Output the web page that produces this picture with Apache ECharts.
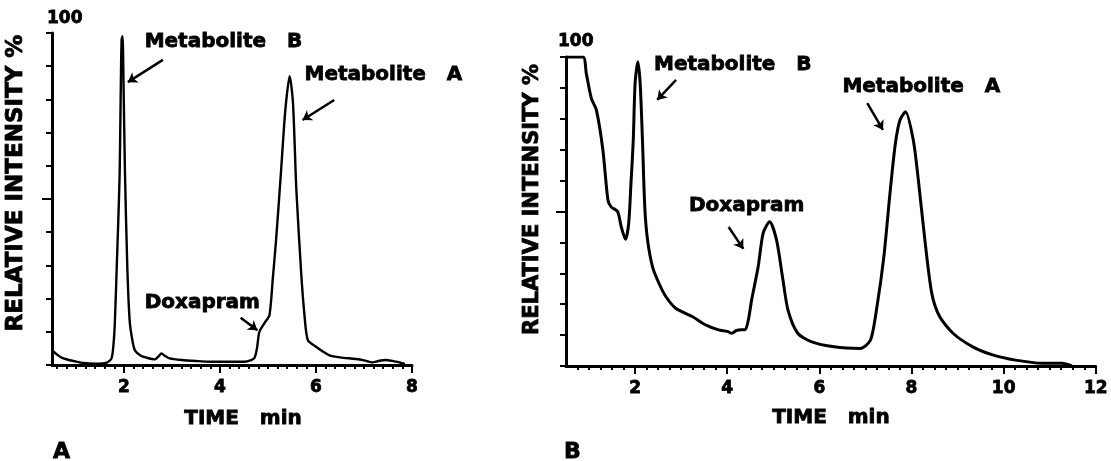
<!DOCTYPE html>
<html>
<head>
<meta charset="utf-8">
<title>Doxapram chromatograms</title>
<script src="https://cdn.jsdelivr.net/npm/echarts@6.0.0/dist/echarts.min.js"></script>
<style>
    html, body { margin: 0; padding: 0; background: #ffffff; }
    #chart { width: 1111px; height: 461px; }
</style>
</head>
<body>
<div id="chart"></div>
<script>
// 数据：A 图（0.5 - 8 min）
var timeA = [0.5, 0.6, 0.7, 0.85, 0.95, 1.15, 1.4, 1.64, 1.74, 1.78, 1.81, 1.85, 1.88, 1.91, 1.93, 1.95, 1.97, 1.99,
    2.02, 2.07, 2.12, 2.18, 2.23, 2.35, 2.47, 2.64, 2.72, 2.78, 2.85, 2.95, 3.2, 3.5, 3.8, 4.2, 4.5, 4.65, 4.72,
    4.77, 4.82, 4.93, 5.03, 5.1, 5.17, 5.27, 5.34, 5.39, 5.45, 5.52, 5.59, 5.69, 5.76, 5.83, 6.0, 6.15, 6.28,
    6.5, 6.83, 7.0, 7.18, 7.3, 7.46, 7.67, 7.85];
var intensityA = [4.5, 3.2, 2.2, 1.5, 1.2, 0.6, 0.4, 0.7, 2, 6, 13, 30, 43, 58, 80, 98, 99, 85,
    58, 29, 13, 7, 4.3, 2.8, 2.2, 1.7, 2.6, 3.5, 2.8, 2, 1.5, 1.2, 1, 1, 1, 1.5, 2.2,
    5, 10, 12.7, 15, 26, 38, 58, 73, 81, 87, 79, 53, 28, 15, 7.5, 5.5, 4, 2.9,
    2.3, 1.8, 1.4, 0.8, 1.2, 1.5, 1, 0.3];

// 数据：B 图（0.5 - 12 min）
var timeB = [0.5, 0.87, 0.94, 1.05, 1.16, 1.3, 1.41, 1.48, 1.62, 1.7, 1.79, 1.86, 1.91, 1.96, 2.0, 2.06, 2.11,
    2.16, 2.21, 2.27, 2.38, 2.52, 2.67, 2.88, 3.24, 3.53, 3.81, 4.0, 4.1, 4.2, 4.31, 4.39, 4.46, 4.53, 4.67,
    4.78, 4.92, 5.07, 5.21, 5.32, 5.53, 5.82, 6.32, 6.89, 7.11, 7.25, 7.4, 7.54, 7.65, 7.75, 7.87, 8.04,
    8.15, 8.29, 8.44, 8.61, 8.9, 9.33, 9.76, 10.26, 10.84, 11.27, 11.48];
var intensityB = [100, 100, 94.7, 86.6, 82.8, 70, 53.7, 51.5, 50, 45, 41, 46, 59, 73, 91.5, 98.5, 91.5,
    73, 51.5, 40.8, 32, 26.7, 22.4, 18.7, 16, 13.3, 11.7, 11.2, 10.6, 11.5, 11.7, 11.7, 15, 21.4, 32,
    43, 46.7, 40.8, 27.8, 18, 10.6, 7.9, 6.2, 5.7, 8.4, 19.2, 35.4, 57, 72, 79.6, 82.3, 73,
    60, 40.8, 23.5, 16, 10.6, 6.2, 3.6, 1.9, 0.9, 0.9, 0];

// 刻度标签
var xLabelsA = [2, 4, 6, 8];
var xLabelsB = [2, 4, 6, 8, 10, 12];
var yLabels = [100];

// 峰的名称
var peakNames = ['Metabolite   B', 'Metabolite   A', 'Doxapram'];

var font = 'DejaVu Sans';
// 加粗字体（描边让字更黑）
var ink = { color: '#000', fontFamily: font, fontWeight: 'bold', textBorderColor: '#000', textBorderWidth: 0.8 };

function txt(extra) {
    return Object.assign({}, ink, extra);
}

// 小刻度位置
function minorTicks(from, to, step) {
    var out = [];
    for (var v = from; v <= to + 1e-9; v += step) {
        out.push(Math.round(v * 100) / 100);
    }
    return out;
}

function zip(xs, ys) {
    return xs.map(function (x, i) { return [x, ys[i]]; });
}

// x 轴（主刻度 + 标签）
function mainX(grid, max, labels, gap, pad) {
    return {
        type: 'value', gridIndex: grid, min: 0.5, max: max, position: 'bottom',
        name: 'TIME   min', nameLocation: 'middle', nameGap: gap,
        nameTextStyle: txt({ fontSize: 20, padding: pad }),
        axisLine: { onZero: false, lineStyle: { color: '#000', width: 3 } },
        axisTick: { customValues: labels, length: 8, lineStyle: { color: '#000', width: 2 } },
        axisLabel: txt({ customValues: labels, margin: 14, fontSize: 17 }),
        splitLine: { show: false }
    };
}

// x 轴（小刻度）
function minorX(grid, max, ticks) {
    return {
        type: 'value', gridIndex: grid, min: 0.5, max: max, position: 'bottom',
        axisLine: { show: false },
        axisTick: { customValues: ticks, length: 4, lineStyle: { color: '#000', width: 2 } },
        axisLabel: { show: false },
        splitLine: { show: false }
    };
}

// y 轴
function mainY(grid, nameGap, namePad, fontSize, labelMargin, labelLift) {
    return {
        type: 'value', gridIndex: grid, min: 0, max: 100, interval: 10, position: 'left',
        name: 'RELATIVE INTENSITY %', nameLocation: 'middle', nameRotate: 90, nameGap: nameGap,
        nameTextStyle: txt({ fontSize: fontSize, padding: namePad }),
        axisLine: { onZero: false, lineStyle: { color: '#000', width: 3 } },
        axisTick: { length: 6, lineStyle: { color: '#000', width: 2 } },
        axisLabel: txt({
            customValues: yLabels, margin: labelMargin, align: 'left', verticalAlign: 'bottom',
            padding: [0, 0, labelLift, 0], fontSize: 17
        }),
        splitLine: { show: false }
    };
}

// y 轴 50% 处的长刻度
function halfY(grid) {
    return {
        type: 'value', gridIndex: grid, min: 0, max: 100, position: 'left',
        axisLine: { show: false },
        axisTick: { customValues: [50], length: 10, lineStyle: { color: '#000', width: 2 } },
        axisLabel: { show: false },
        splitLine: { show: false }
    };
}

function curve(xi, yi, data, width) {
    return {
        type: 'line', xAxisIndex: xi, yAxisIndex: yi, data: data,
        showSymbol: false, smooth: 0.25, silent: true,
        lineStyle: { color: '#000', width: width }
    };
}

// 峰名称
function names(xi, yi, items) {
    return {
        type: 'scatter', xAxisIndex: xi, yAxisIndex: yi, symbolSize: 0, silent: true,
        itemStyle: { opacity: 1 },
        data: items,
        label: txt({ show: true, formatter: '{b}', position: 'right', distance: 0, fontSize: 20, opacity: 1 })
    };
}

// 箭头
function arrows(xi, yi, items) {
    return {
        type: 'lines', coordinateSystem: 'cartesian2d', xAxisIndex: xi, yAxisIndex: yi, silent: true,
        symbol: ['none', 'arrow'], symbolSize: 9,
        lineStyle: { color: '#000', width: 2.5, opacity: 1 },
        data: items.map(function (c) { return { coords: c }; })
    };
}

var myChart = echarts.init(document.getElementById('chart'));
var option = {
    backgroundColor: '#ffffff',
    animation: false,
    title: [
        { text: 'A', left: 48, top: 436, textStyle: txt({ fontSize: 22 }) },
        { text: 'B', left: 559, top: 436, textStyle: txt({ fontSize: 22 }) }
    ],
    grid: [
        { left: 52, top: 33, width: 360, height: 332 },
        { left: 566, top: 57, width: 534, height: 309 }
    ],
    xAxis: [
        mainX(0, 8, xLabelsA, 44, [0, 0, 0, 22]),
        minorX(0, 8, minorTicks(0.6, 8, 0.2)),
        mainX(1, 12, xLabelsB, 42, [0, 0, 0, 0]),
        minorX(1, 12, minorTicks(0.75, 12, 0.25))
    ],
    yAxis: [
        mainY(0, 24, [0, 0, 0, 32], 23, 5, 6),
        halfY(0),
        mainY(1, 23, [0, 0, 0, 24], 21, 8, 7),
        halfY(1)
    ],
    series: [
        curve(0, 0, zip(timeA, intensityA), 2.4),
        curve(2, 2, zip(timeB, intensityB), 3),
        names(0, 0, [
            { name: peakNames[0], value: [2.43, 97.3] },
            { name: peakNames[1], value: [5.76, 87.3] },
            { name: peakNames[2], value: [2.43, 18.7] }
        ]),
        names(2, 2, [
            { name: peakNames[0], value: [2.41, 97.4] },
            { name: peakNames[1], value: [6.5, 90.3] },
            { name: peakNames[2], value: [3.17, 51.8] }
        ]),
        arrows(0, 0, [
            [[2.81, 91.9], [2.08, 85.2]],
            [[6.38, 79.8], [5.72, 73.8]],
            [[4.43, 14.2], [4.78, 10.5]]
        ]),
        arrows(2, 2, [
            [[2.89, 92.6], [2.48, 86.1]],
            [[7.04, 85.1], [7.38, 76.4]],
            [[4.03, 45], [4.35, 37.9]]
        ])
    ]
};
myChart.setOption(option);
</script>
</body>
</html>
